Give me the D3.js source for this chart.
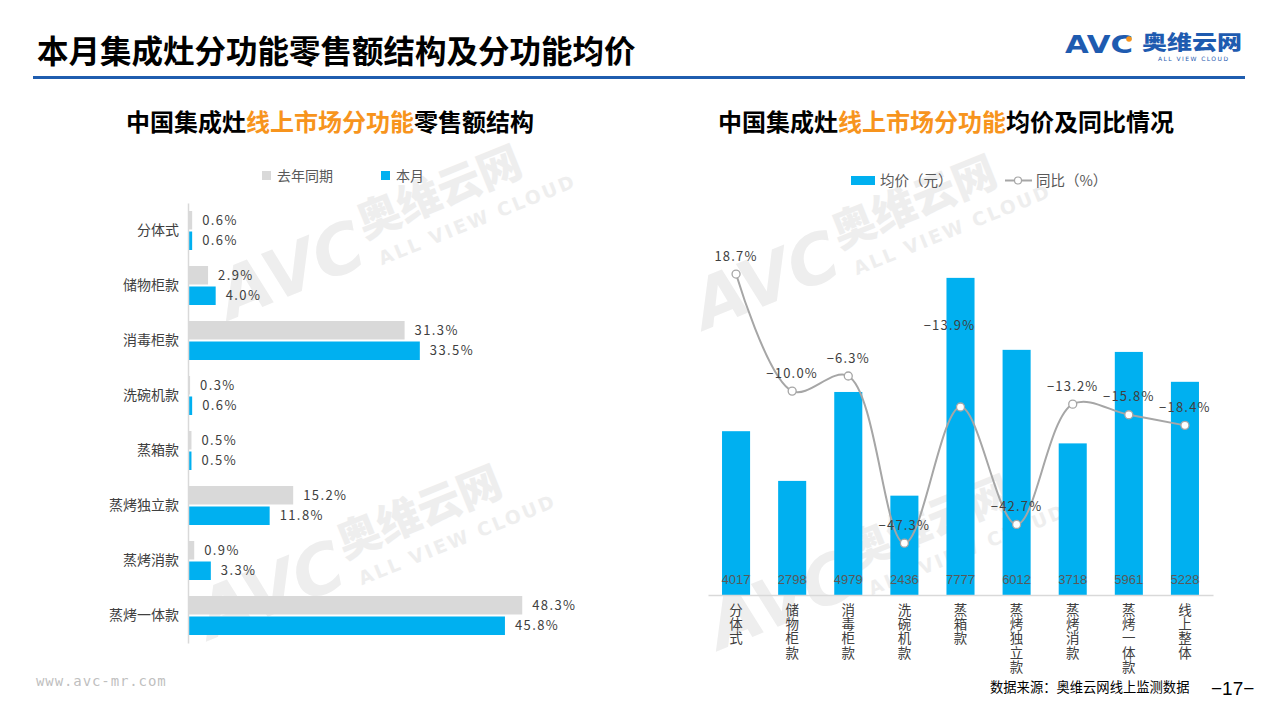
<!DOCTYPE html>
<html><head><meta charset="utf-8">
<script src="https://cdn.jsdelivr.net/npm/d3@7"></script>
<style>
html,body{margin:0;padding:0;background:#fff;}
svg{display:block;font-family:"Noto Sans CJK SC","Noto Sans",sans-serif;}
</style></head>
<body><svg id="c" width="1280" height="720"></svg>
<script>
// ---------- data ----------
const leftCategories = ["分体式","储物柜款","消毒柜款","洗碗机款","蒸箱款","蒸烤独立款","蒸烤消款","蒸烤一体款"];
const lastYearShare = [0.6, 2.9, 31.3, 0.3, 0.5, 15.2, 0.9, 48.3];
const thisMonthShare = [0.6, 4.0, 33.5, 0.6, 0.5, 11.8, 3.3, 45.8];
const leftSeriesNames = ["去年同期","本月"];

const rightCategories = ["分体式","储物柜款","消毒柜款","洗碗机款","蒸箱款","蒸烤独立款","蒸烤消款","蒸烤一体款","线上整体"];
const avgPrice = [4017, 2798, 4979, 2436, 7777, 6012, 3718, 5961, 5228];
const yoyPct = [18.7, -10.0, -6.3, -47.3, -13.9, -42.7, -13.2, -15.8, -18.4];
const rightSeriesNames = ["均价（元）","同比（%）"];

const svg = d3.select("#c");
const GRAY = "#D9D9D9", BLUE = "#00B0F0", TXT = "#404040";

// ---------- watermarks ----------
function watermark(x, y, s) {
  const g = svg.append("g").attr("transform", `translate(${x},${y}) rotate(-22) scale(${s})`).attr("fill", "#EEEEEE");
  g.append("text").attr("x", 0).attr("y", 0).attr("font-size", 110).attr("font-weight", 900)
    .attr("font-style", "italic").attr("font-family", "DejaVu Sans").text("AVC");
  g.append("text").attr("x", 250).attr("y", -40).attr("font-size", 70).attr("font-weight", 900).text("奥维云网");
  g.append("text").attr("x", 260).attr("y", 10).attr("font-size", 30).attr("font-weight", 900)
    .attr("font-family", "DejaVu Sans").attr("letter-spacing", 4).text("ALL VIEW CLOUD");
}
watermark(230, 320, 0.62);
watermark(210, 640, 0.62);
watermark(705, 330, 0.62);
watermark(720, 650, 0.62);

// ---------- header ----------
svg.append("text").attr("x", 37).attr("y", 63).attr("font-size", 31.5).attr("font-weight", 700)
  .attr("fill", "#000").text("本月集成灶分功能零售额结构及分功能均价");
svg.append("rect").attr("x", 33).attr("y", 76).attr("width", 1212).attr("height", 3).attr("fill", "#1F5DAF");
// logo
svg.append("text").attr("x", 1065).attr("y", 53).attr("font-size", 25).attr("font-weight", 700)
  .attr("font-family", "DejaVu Sans").attr("fill", "#1E5BB0")
  .attr("textLength", 68).attr("lengthAdjust", "spacingAndGlyphs").text("AVC");
svg.append("circle").attr("cx", 1129).attr("cy", 39).attr("r", 2.8).attr("fill", "#F7941D");
svg.append("text").attr("x", 1142).attr("y", 50).attr("font-size", 20).attr("font-weight", 900)
  .attr("fill", "#1E5BB0").attr("textLength", 100).attr("lengthAdjust", "spacingAndGlyphs").text("奥维云网");
svg.append("text").attr("x", 1158).attr("y", 60.5).attr("font-size", 6).attr("font-family", "DejaVu Sans")
  .attr("fill", "#1E5BB0").attr("textLength", 70).attr("lengthAdjust", "spacing").text("ALL VIEW CLOUD");

// ---------- left chart ----------
const lt = svg.append("text").attr("x", 126).attr("y", 131).attr("font-size", 24).attr("font-weight", 700).attr("fill", "#000");
lt.append("tspan").text("中国集成灶");
lt.append("tspan").attr("fill", "#F7941D").text("线上市场分功能");
lt.append("tspan").text("零售额结构");

// legend
[[262, GRAY, leftSeriesNames[0]], [381, BLUE, leftSeriesNames[1]]].forEach(([x, c, t]) => {
  svg.append("rect").attr("x", x).attr("y", 171).attr("width", 9).attr("height", 9).attr("fill", c);
  svg.append("text").attr("x", x + 15).attr("y", 181).attr("font-size", 14).attr("fill", "#595959").text(t);
});

const ly = d3.scaleBand().domain(leftCategories).range([203, 643]);
const lx = d3.scaleLinear().domain([0, 50]).range([188, 534]);
const barH = 18.5;
const lg = svg.append("g");
leftCategories.forEach((c, i) => {
  const cy = ly(c) + ly.bandwidth() / 2;
  lg.append("rect").attr("x", lx(0)).attr("y", cy - barH - 1).attr("width", lx(lastYearShare[i]) - lx(0)).attr("height", barH).attr("fill", GRAY);
  lg.append("rect").attr("x", lx(0)).attr("y", cy + 1).attr("width", lx(thisMonthShare[i]) - lx(0)).attr("height", barH).attr("fill", BLUE);
  lg.append("text").attr("x", lx(lastYearShare[i]) + 10).attr("y", cy - barH / 2 - 1).attr("dy", "0.35em")
    .attr("font-size", 13).attr("fill", TXT).attr("letter-spacing", 1.4).text(lastYearShare[i].toFixed(1) + "%");
  lg.append("text").attr("x", lx(thisMonthShare[i]) + 10).attr("y", cy + barH / 2 + 1).attr("dy", "0.35em")
    .attr("font-size", 13).attr("fill", TXT).attr("letter-spacing", 1.4).text(thisMonthShare[i].toFixed(1) + "%");
});
const leftAxis = svg.append("g").attr("transform", `translate(${lx(0)},0)`)
  .call(d3.axisLeft(ly).tickSize(0).tickPadding(9));
leftAxis.select(".domain").attr("stroke", GRAY).attr("stroke-width", 1.5);
leftAxis.selectAll("text").attr("font-size", 14).attr("fill", TXT)
  .attr("font-family", "Noto Sans CJK SC");

// ---------- right chart ----------
const rt = svg.append("text").attr("x", 718).attr("y", 131).attr("font-size", 24).attr("font-weight", 700).attr("fill", "#000");
rt.append("tspan").text("中国集成灶");
rt.append("tspan").attr("fill", "#F7941D").text("线上市场分功能");
rt.append("tspan").text("均价及同比情况");

// legend
svg.append("rect").attr("x", 851).attr("y", 176).attr("width", 24).attr("height", 9).attr("fill", BLUE);
svg.append("text").attr("x", 880).attr("y", 186).attr("font-size", 14.5).attr("fill", "#595959").text(rightSeriesNames[0]);
svg.append("line").attr("x1", 1005).attr("x2", 1032).attr("y1", 180.5).attr("y2", 180.5).attr("stroke", "#A6A6A6").attr("stroke-width", 2);
svg.append("circle").attr("cx", 1018).attr("cy", 180.5).attr("r", 3.5).attr("fill", "#fff").attr("stroke", "#A6A6A6").attr("stroke-width", 1.2);
svg.append("text").attr("x", 1036).attr("y", 186).attr("font-size", 14.5).attr("fill", "#595959").text(rightSeriesNames[1]);

const rx = d3.scaleBand().domain(rightCategories).range([708, 1213]).paddingInner(0.5).paddingOuter(0.25);
const ry = d3.scaleLinear().domain([0, 9000]).range([595, 228]);
const ry2 = d3.scaleLinear().domain([-60, 30]).range([595, 228]);

const rg = svg.append("g");
rg.selectAll("rect.bar").data(avgPrice).join("rect").attr("class", "bar")
  .attr("x", (d, i) => rx(rightCategories[i])).attr("y", d => ry(d))
  .attr("width", rx.bandwidth()).attr("height", d => ry(0) - ry(d)).attr("fill", BLUE);
rg.selectAll("text.val").data(avgPrice).join("text").attr("class", "val")
  .attr("x", (d, i) => rx(rightCategories[i]) + rx.bandwidth() / 2).attr("y", ry(0) - 16)
  .attr("text-anchor", "middle").attr("font-size", 13).attr("fill", "#595959").attr("font-family", "Liberation Sans")
  .attr("dominant-baseline", "central").text(d => d);

// x axis
const xAxis = svg.append("g").attr("transform", `translate(0,${ry(0)})`).call(d3.axisBottom(rx).tickSize(0).tickFormat(""));
xAxis.select(".domain").attr("stroke", GRAY).attr("stroke-width", 1.5);
svg.selectAll("text.xcat").data(rightCategories).join("text").attr("class", "xcat")
  .attr("x", c => rx(c) + rx.bandwidth() / 2).attr("y", 603)
  .attr("writing-mode", "vertical-rl").attr("text-orientation", "upright")
  .style("writing-mode", "vertical-rl").style("text-orientation", "upright")
  .attr("font-size", 13.5).attr("letter-spacing", 0.8).attr("fill", TXT).text(c => c);

// line
const pts = yoyPct.map((v, i) => [rx(rightCategories[i]) + rx.bandwidth() / 2, ry2(v)]);
svg.append("path").attr("d", d3.line().curve(d3.curveCatmullRom.alpha(0.5))(pts))
  .attr("fill", "none").attr("stroke", "#A6A6A6").attr("stroke-width", 2);
svg.selectAll("circle.pt").data(pts).join("circle").attr("class", "pt")
  .attr("cx", d => d[0]).attr("cy", d => d[1]).attr("r", 4)
  .attr("fill", "#fff").attr("stroke", "#A6A6A6").attr("stroke-width", 1.3);
svg.selectAll("text.yoy").data(yoyPct).join("text").attr("class", "yoy")
  .attr("x", (d, i) => pts[i][0] - (i === 4 ? 11 : 0)).attr("y", (d, i) => pts[i][1] - (i === 4 ? 83 : 19))
  .attr("text-anchor", "middle").attr("dominant-baseline", "central")
  .attr("font-size", 13).attr("fill", TXT).attr("letter-spacing", 1.2)
  .text(d => d.toFixed(1).replace("-", "−") + "%");

// ---------- footer ----------
svg.append("text").attr("x", 36).attr("y", 686).attr("font-size", 14).attr("fill", "#BFBFBF")
  .attr("font-family", "DejaVu Sans Mono").attr("letter-spacing", 0.9).text("www.avc-mr.com");
svg.append("text").attr("x", 990).attr("y", 692).attr("font-size", 13.3).attr("fill", "#000").text("数据来源：奥维云网线上监测数据");
svg.append("text").attr("x", 1211).attr("y", 695).attr("font-size", 19).attr("fill", "#000")
  .attr("font-family", "Liberation Sans").text("−17−");
</script></body></html>
